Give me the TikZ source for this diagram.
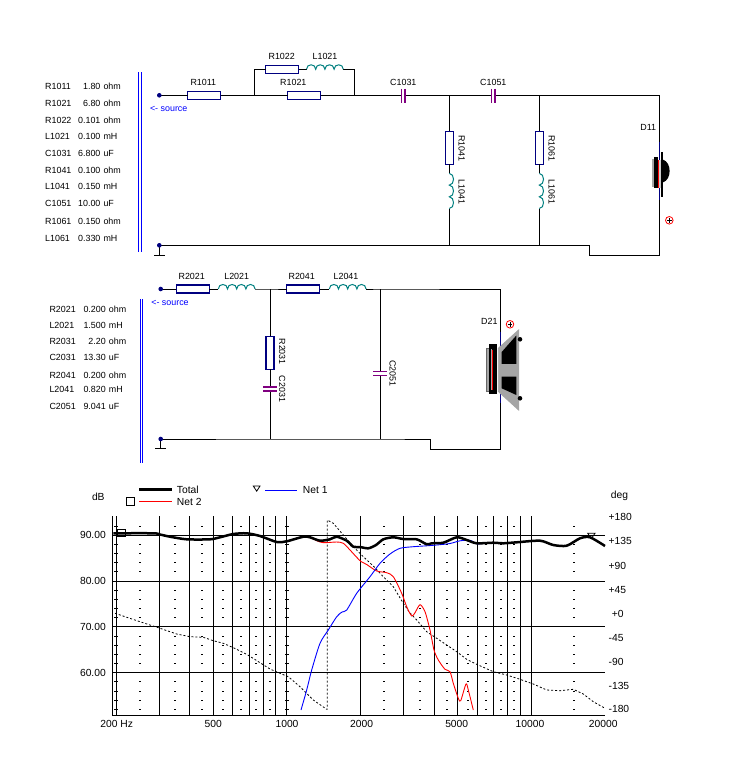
\documentclass[tikz,border=0pt]{standalone}
\usepackage{fontspec}
\setmainfont{Liberation Sans}
\definecolor{rescol}{RGB}{0,0,128}
\definecolor{indcol}{RGB}{0,128,128}
\definecolor{capcol}{RGB}{128,0,128}
\definecolor{srccol}{RGB}{0,0,255}
\definecolor{spkgray}{RGB}{165,165,165}
\definecolor{netred}{RGB}{255,0,0}
\definecolor{netblue}{RGB}{0,0,255}
\tikzset{
  declare function={fx(\ta)=116+244.5*log10(\ta/200); dby(\tb)=535.3-(\tb-90)*4.58;},
  wire/.style={line width=0.9pt,black},
  navywire/.style={line width=0.9pt,rescol},
  resH/.style={draw=rescol,line width=1.1pt,fill=white,minimum width=33pt,minimum height=8pt,inner sep=0pt,outer sep=0pt},
  resV/.style={draw=rescol,line width=1.1pt,fill=white,minimum width=8pt,minimum height=33pt,inner sep=0pt,outer sep=0pt},
  indst/.style={indcol,line width=1pt},
  capst/.style={capcol,line width=1.1pt},
  lbl/.style={inner sep=0pt,font=\fontsize{8.9}{10.5}\selectfont},
  glbl/.style={inner sep=0pt,font=\fontsize{10.3}{12}\selectfont},
  gline/.style={line width=0.9pt,black},
  srcdot/.style={circle,fill=rescol,inner sep=0pt,minimum size=4.6pt},
  pics/indh/.style={code={\draw[indst] (0,0) .. controls +(0,-6) and +(0,-6) .. (9.2,0) .. controls +(0,-6) and +(0,-6) .. (18.4,0) .. controls +(0,-6) and +(0,-6) .. (27.6,0) .. controls +(0,-6) and +(0,-6) .. (36.8,0);}},
  pics/indv/.style={code={\draw[indst] (0,0) .. controls +(5.6,0) and +(5.6,0) .. (0,11.7) .. controls +(5.6,0) and +(5.6,0) .. (0,23.4) .. controls +(5.6,0) and +(5.6,0) .. (0,35.1);}},
  pics/capH/.style={code={\draw[capst] (-1.65,-7) -- (-1.65,7) (1.65,-7) -- (1.65,7);}},
  pics/capV/.style={code={\draw[capst] (-7,-2) -- (7,-2) (-7,2) -- (7,2);}},
  pics/plusmark/.style={code={\draw[netred,line width=0.8pt] (0,0) circle[radius=3.8pt]; \draw[black,line width=0.8pt] (-2.3,0) -- (2.3,0) (0,-2.3) -- (0,2.3);}}
}
\begin{document}
\begin{tikzpicture}[x=1pt,y=-1pt]
\useasboundingbox[fill=white] (0,0) rectangle (745,773);

% ================= top network =================
\draw[srccol,line width=0.9pt] (138.9,72.5) -- (138.9,252) (141.1,72.5) -- (141.1,252);
\foreach \nm/\vl/\un/\yy [count=\i] in {R1011/1.80/ohm/86.7, R1021/6.80/ohm/103.3, R1022/0.101/ohm/120.7, L1021/0.100/mH/136.7, C1031/6.800/uF/153.3, R1041/0.100/ohm/170, L1041/0.150/mH/186, C1051/10.00/uF/203.3, R1061/0.150/ohm/221.7, L1061/0.330/mH/238.3}{
  \node[lbl,anchor=base west] (va\i) at (45,\yy+3.2) {\nm};
  \node[lbl,anchor=base east] (vb\i) at (100.6,\yy+3.2) {\vl};
  \node[lbl,anchor=base west] (vc\i) at (103.3,\yy+3.2) {\un};
}
\coordinate (S1) at (159.3,95.3);
\coordinate (G1) at (159.3,245.3);
\coordinate (J1) at (254.3,95.3);
\coordinate (J1u) at (254.3,69.3);
\coordinate (J2) at (354.3,95.3);
\coordinate (J2u) at (354.3,69.3);
\coordinate (L1021a) at (306.5,69.3);
\coordinate (L1021b) at (343.3,69.3);
\coordinate (C1031a) at (401.7,95.3);
\coordinate (C1031b) at (405,95.3);
\coordinate (J3) at (449.3,95.3);
\coordinate (C1051a) at (491.7,95.3);
\coordinate (C1051b) at (495,95.3);
\coordinate (J4) at (539.3,95.3);
\coordinate (T1) at (659.3,95.3);
\coordinate (D11t) at (659.3,141.7);
\coordinate (D11b) at (659.3,200);
\coordinate (B1) at (659.3,255);
\coordinate (B2) at (589.3,255);
\coordinate (B3) at (589.3,245.3);
\coordinate (L1041a) at (449.3,173.4);
\coordinate (L1041b) at (449.3,208.5);
\coordinate (J3g) at (449.3,245.3);
\coordinate (L1061a) at (539.3,173.4);
\coordinate (L1061b) at (539.3,208.5);
\coordinate (J4g) at (539.3,245.3);

\node[resH] (R1011) at (204,95.3) {};
\node[resH] (R1022) at (282,69.3) {};
\node[resH] (R1021) at (304,95.3) {};
\node[resV] (R1041) at (449.3,147.7) {};
\node[resV] (R1061) at (539.3,147.7) {};

\draw[wire] (S1) -- (R1011.west) (R1011.east) -- (J1) -- (R1021.west) (R1021.east) -- (J2) -- (C1031a)
  (C1031b) -- (J3) -- (C1051a) (C1051b) -- (J4) -- (T1) -- (D11t);
\draw[wire] (J1) -- (J1u) -- (R1022.west) (R1022.east) -- (L1021a) (L1021b) -- (J2u) -- (J2);
\draw[wire] (J3) -- (R1041.north) (R1041.south) -- (L1041a) (L1041b) -- (J3g);
\draw[wire] (J4) -- (R1061.north) (R1061.south) -- (L1061a) (L1061b) -- (J4g);
\draw[wire] (G1) -- (J3g) -- (J4g) -- (B3) -- (B2) -- (B1) -- (D11b);
\draw[wire] (G1) -- (159.3,255) (154,255) -- (164.6,255);
\pic at (L1021a) {indh};
\pic at (L1041a) {indv};
\pic at (L1061a) {indv};
\pic at (403.35,95.8) {capH};
\pic at (493.35,95.8) {capH};
\node[srcdot] (dS1) at (S1) {};
\node[srcdot] (dG1) at (G1) {};
\node[lbl,text=srccol] (src1) at (168.7,109.2) {<- source};

\node[lbl] (tR1011) at (203.3,82.7) {R1011};
\node[lbl] (tR1022) at (281.7,56.7) {R1022};
\node[lbl] (tL1021) at (325,56.7) {L1021};
\node[lbl] (tR1021) at (293.3,82.7) {R1021};
\node[lbl] (tC1031) at (403.3,82.7) {C1031};
\node[lbl] (tC1051) at (493.3,82.7) {C1051};
\node[lbl,rotate=-90] (tR1041) at (461.7,148.3) {R1041};
\node[lbl,rotate=-90] (tL1041) at (461.7,191.7) {L1041};
\node[lbl,rotate=-90] (tR1061) at (551.7,148.3) {R1061};
\node[lbl,rotate=-90] (tL1061) at (551.7,191.7) {L1061};
\node[lbl] (tD11) at (648.3,127.3) {D11};

% tweeter D11
\draw[navywire] (D11t) -- (D11b);
\fill[spkgray] (651.7,159.3) rectangle (654.3,186.7);
\fill[black] (654,157.3) rectangle (658.3,188.3);
\fill[black!20] (659.3,160) rectangle (661,188);
\draw[netred,line width=1pt] (658.8,160) -- (658.8,188);
\fill[black] (661,152.3) rectangle (663,196.7);
\fill[black] (662.7,159.5) .. controls (667.5,161) and (669.6,166) .. (669.6,171) .. controls (669.6,176) and (667.5,181) .. (662.7,182.5) -- cycle;
\pic at (669.3,220.3) {plusmark};

% ================= middle network =================
\draw[srccol,line width=0.9pt] (140.6,299.3) -- (140.6,463.3) (142.8,299.3) -- (142.8,463.3);
\foreach \nm/\vl/\un/\yy [count=\i] in {R2021/0.200/ohm/309, L2021/1.500/mH/325, R2031/2.20/ohm/341.7, C2031/13.30/uF/357.3, R2041/0.200/ohm/375, L2041/0.820/mH/389.3, C2051/9.041/uF/406.7}{
  \node[lbl,anchor=base west] (wa\i) at (49.3,\yy+3.2) {\nm};
  \node[lbl,anchor=base east] (wb\i) at (106,\yy+3.2) {\vl};
  \node[lbl,anchor=base west] (wc\i) at (108.7,\yy+3.2) {\un};
}
\coordinate (S2) at (160.7,289);
\coordinate (G2) at (160.7,439);
\coordinate (L2021a) at (218.3,289);
\coordinate (L2021b) at (255.1,289);
\coordinate (J5) at (270,289);
\coordinate (L2041a) at (329.3,289);
\coordinate (L2041b) at (366.1,289);
\coordinate (J6) at (380,289);
\coordinate (T2) at (500,289);
\coordinate (D21t) at (500,331.7);
\coordinate (D21b) at (500,403.3);
\coordinate (B4) at (500,449);
\coordinate (B5) at (430,449);
\coordinate (B6) at (430,439);
\coordinate (C2031a) at (270,387);
\coordinate (C2031b) at (270,391);
\coordinate (J5g) at (270,439);
\coordinate (C2051a) at (380,371.7);
\coordinate (C2051b) at (380,375.7);
\coordinate (J6g) at (380,439);

\node[resH] (R2021) at (192.7,289) {};
\node[resH] (R2041) at (303,289) {};
\node[resV] (R2031) at (270,352.7) {};

\draw[wire] (S2) -- (R2021.west) (R2021.east) -- (L2021a) (L2021b) -- (J5) -- (R2041.west)
  (R2041.east) -- (L2041a) (L2041b) -- (J6) -- (T2) -- (D21t);
\draw[wire] (J5) -- (R2031.north) (R2031.south) -- (C2031a) (C2031b) -- (J5g);
\draw[wire] (J6) -- (C2051a) (C2051b) -- (J6g);
\draw[wire] (G2) -- (J5g) -- (J6g) -- (B6) -- (B5) -- (B4) -- (D21b);
\draw[wire] (G2) -- (160.7,448.3) (155.4,448.3) -- (166,448.3);
\pic at (L2021a) {indh};
\pic at (L2041a) {indh};
\pic at (270,389) {capV};
\pic at (380,373.7) {capV};
\node[srcdot] (dS2) at (S2) {};
\node[srcdot] (dG2) at (G2) {};
\node[lbl,text=srccol] (src2) at (170,303.2) {<- source};

\node[lbl] (tR2021) at (191.7,276.7) {R2021};
\node[lbl] (tL2021) at (236.7,276.7) {L2021};
\node[lbl] (tR2041) at (301.7,276.7) {R2041};
\node[lbl] (tL2041) at (346,276.7) {L2041};
\node[lbl,rotate=-90] (tR2031) at (282.3,351.7) {R2031};
\node[lbl,rotate=-90] (tC2031) at (282.3,389) {C2031};
\node[lbl,rotate=-90] (tC2051) at (392.7,373.3) {C2051};
\node[lbl] (tD21) at (489.3,321.7) {D21};

% woofer D21
\draw[navywire] (D21t) -- (D21b);
\filldraw[fill=spkgray,draw=black!60,line width=0.6pt] (486.7,348.3) rectangle (489.5,391);
\fill[black] (489.3,344.3) rectangle (496.7,394);
\draw[spkgray,line width=0.9pt] (491,349) -- (491,390);
\draw[netred,line width=1.1pt] (492.9,350) -- (492.9,390);
\filldraw[fill=spkgray,draw=spkgray,line width=0.8pt] (498.3,348.3) -- (518.6,330) -- (518.6,410) -- (498.3,391.5) -- cycle;
\fill[black] (501.7,352) -- (516.3,335.5) -- (516.3,363.8) -- (501.7,363.8) -- cycle;
\fill[black] (501.7,376.5) -- (516.3,376.5) -- (516.3,395) -- (501.7,388.3) -- cycle;
\fill[black] (520,339.3) circle[radius=2.3pt];
\fill[black] (520,398.3) circle[radius=2.3pt];
\pic at (510,324.3) {plusmark};

% ================= graph =================
\foreach \f in {200,300,...,1000}{\draw[gline] ({fx(\f)},516) -- ({fx(\f)},715.3);}
\foreach \f in {2000,3000,...,10000}{\draw[gline] ({fx(\f)},516) -- ({fx(\f)},715.3);}
\foreach \dv in {90,80,70,60}{\draw[gline] (112.3,{dby(\dv)}) -- (605,{dby(\dv)});}
\draw[gline] (112.3,516) -- (112.3,715.3) -- (605,715.3);
\foreach \f in {250,350,450,550,650,750,850,2500,3500,4500,5500,6500,7500,8500,15000}{
  \foreach \dv in {92,88,86,84,82,78,76,74,72,68,66,64,62,58,56,54,52}{
    \fill ({fx(\f)-1},{dby(\dv)-0.5}) rectangle +(2,1);
  }
}
\foreach \dv in {92,88,86,84,82,78,76,74,72,68,66,64,62,58,56,54,52}{
  \fill ({fx(200)-2},{dby(\dv)-0.5}) rectangle +(4,1);
  \fill ({fx(1000)-2},{dby(\dv)-0.5}) rectangle +(4,1);
}
% axis labels
\foreach \dv in {90,80,70,60}{\node[glbl,anchor=east] (ly\dv) at (106,{dby(\dv)}) {\dv.00};}
\node[glbl] (lx1) at (116.7,724.3) {200 Hz};
\node[glbl] (lx2) at (213.3,724.3) {500};
\node[glbl] (lx3) at (287,724.3) {1000};
\node[glbl] (lx4) at (361.7,724.3) {2000};
\node[glbl] (lx5) at (456.7,724.3) {5000};
\node[glbl] (lx6) at (530,724.3) {10000};
\node[glbl] (lx7) at (603.3,724.3) {20000};
\foreach \t/\yy [count=\i] in {+180/516.7,+135/541,+90/566,+45/590,-45/638,-90/662,-135/686,-180/709}{
  \node[glbl,anchor=west] (lp\i) at (608.4,\yy) {\t};
}
\node[glbl,anchor=west] (lp0) at (611.7,614) {+0};
\node[glbl,anchor=base] (ldB) at (98.3,500.2) {dB};
\node[glbl,anchor=base] (ldeg) at (619.5,498.6) {deg};

% phase (dashed)
\draw[dash pattern=on 2pt off 2pt,line width=0.8pt] (115,613.3) -- (140,621.7) -- (160,628.3) -- (176.7,634) -- (190,636.7) -- (203.3,637.3) -- (213.3,640.7) -- (223.3,643.3) -- (233.3,647.7) -- (246.7,654.3) -- (260,662.7) -- (270,669) -- (280,673.3) -- (288.3,676.7) -- (300,686.7) -- (313.3,700) -- (326.7,709.3) -- (327.3,709.3) -- (327.3,520) -- (333.3,523.3) -- (343.3,535) -- (353.3,546.7) -- (363.3,556.7) -- (373.3,566) -- (383.3,576.7) -- (393.3,586.7) -- (403.3,603.3) -- (410,613) -- (416.7,620) -- (426.7,631.7) -- (436.7,638.3) -- (446.7,645) -- (456.7,651.7) -- (466.7,659.3) -- (476.7,664.3) -- (493.3,671.7) -- (506.7,675) -- (520,679.3) -- (533.3,684) -- (546.7,690) -- (560,690.7) -- (573.3,689.3) -- (583.3,694) -- (593.3,701.7) -- (605,708.3);
% Net 2 (red)
\draw[netred,line width=0.9pt] plot[smooth,tension=0.45] coordinates {(300,536.5) (310,537.6) (316.7,540.7) (323.3,542.7) (336.7,542) (343.3,543.3) (350,550) (356.7,557.3) (361,561.5) (366.7,564.5) (376.7,571) (386.7,572.7) (393.3,576.7) (401.7,593.3) (406.7,606.7) (411.7,616) (415,612.7) (420,604.7) (425,611.7) (430,630) (434,650) (438.3,660) (445,669.3) (450,671.7) (453.3,683.3) (458.3,698.3) (460.7,700.7) (466,684) (468.3,690) (473.3,710)};
% Net 1 (blue)
\draw[netblue,line width=0.9pt] plot[smooth,tension=0.45] coordinates {(301,710) (306.7,690) (311.7,670) (320,643.3) (328.3,630) (336.7,616.7) (342,612) (346.7,610) (356.7,593.3) (370,576.7) (380,563.3) (390,554) (400,548.3) (413.3,546.7) (428.3,545.7) (436.7,545) (450,543.5) (460,540.8) (470,540.3) (477,543.8) (485,543)};
% Total
\draw[line width=2.5pt,line join=round] plot[smooth,tension=0.45] coordinates {(113.3,533.3) (153.3,533.3) (160,534.5) (170,536.7) (186.7,539.3) (210,539.3) (220,537.3) (233.3,534) (246.7,533.3) (260,536) (276.7,542) (286.7,541.3) (303.3,536.7) (310,537.3) (320,540.7) (330,539.3) (336.7,536.7) (346.7,540.7) (353.3,546.7) (360,547) (368.3,548.3) (376,545) (383.3,539.3) (393.3,537.3) (403.3,539) (416.7,539.3) (426.7,544.3) (431.7,543.3) (443.3,542.7) (456.7,537.3) (466.7,540) (476.7,543.3) (493.3,542.7) (503.3,543.3) (516.7,542.3) (540,540.7) (553.3,545) (566.7,545.7) (580,538.3) (590,537.3) (605,546)};
% markers
\draw[line width=0.8pt] (117.7,529.3) rectangle (125.7,536.7);
\draw[line width=0.8pt] (587.7,533.3) -- (595,533.3) -- (591.3,538.6) -- cycle;

% legend
\draw[line width=3pt] (139.3,489) -- (171.7,489);
\node[glbl,anchor=west] (lgT) at (176.7,490) {Total};
\draw[netred,line width=1pt] (139.3,501.7) -- (171.7,501.7);
\draw[line width=0.8pt] (126,497.6) rectangle (134,505.4);
\node[glbl,anchor=west] (lgN2) at (176.7,502.3) {Net 2};
\draw[line width=0.8pt] (253.3,486) -- (260,486) -- (256.7,491.2) -- cycle;
\draw[netblue,line width=1pt] (265,490) -- (296.7,490);
\node[glbl,anchor=west] (lgN1) at (302.7,490) {Net 1};
\end{tikzpicture}
\end{document}
